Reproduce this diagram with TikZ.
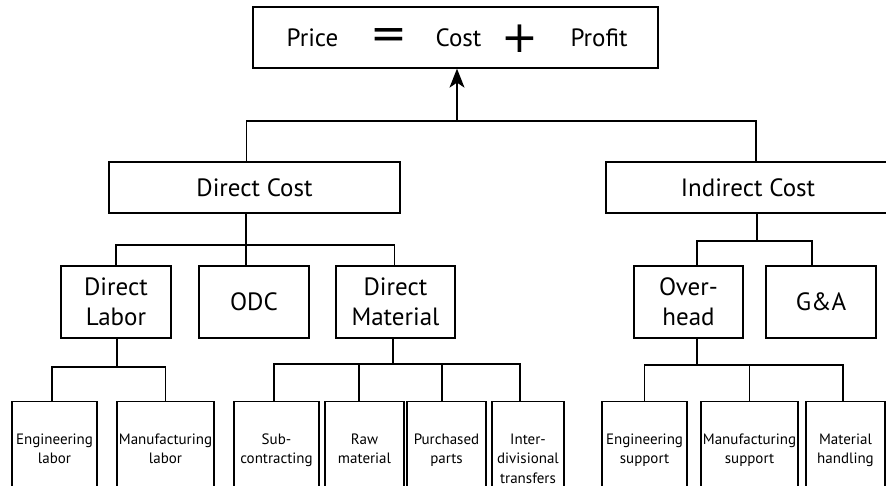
\documentclass[tikz,border=0pt]{standalone}
\usepackage{fontspec}
\setmainfont{PT Sans}
\newfontfamily\symfont{DejaVu Sans}
\usetikzlibrary{arrows.meta}

\begin{document}
\begin{tikzpicture}[
  x=1pt, y=-1pt,
  line width=1.3pt,
  txt/.style={font=\fontsize{25}{30}\selectfont},
  box/.style={
    draw, txt, align=center, inner sep=0pt
  },
  mid/.style={box, minimum height=72pt},
  leaf/.style={
    draw, anchor=north, align=center,
    inner xsep=0pt, inner ysep=32pt,
    font=\fontsize{15}{19.5}\selectfont
  },
  sym/.style={font=\symfont\fontsize{44}{44}\selectfont}
]
  \useasboundingbox (0,0) rectangle (886,486);
  \clip (0,0) rectangle (886,486);

  \node[box, minimum width=405pt, minimum height=61pt] (pcp) at (455.5,37.5){};
  \node[txt, anchor=base] (price) at (312.5,47){Price};
  \node[sym] (eq) at (388.5,39){=};
  \node[txt, anchor=base] (cost) at (458.5,47){Cost};
  \node[sym] (plus) at (520,39){+};
  \node[txt, anchor=base] (profit) at (599,47){Profit};

  \node[box, minimum width=291pt, minimum height=51pt] (dc) at (254.5,187.5){Direct Cost};
  \node[box, minimum width=284pt, minimum height=51pt] (ic) at (748,187.5){Indirect Cost};

  \node[mid, minimum width=110pt] (dl) at (116,302){Direct\\Labor};
  \node[mid, minimum width=110pt] (odc) at (254,302){ODC};
  \node[mid, minimum width=119pt] (dm) at (395.5,302){Direct\\Material};
  \node[mid, minimum width=109pt] (oh) at (688.5,302){Over-\\head};
  \node[mid, minimum width=110pt] (ga) at (821,302){G\&A};

  \foreach \n/\x/\w/\t in {
    el/54.5/85/{Engineering\\labor},
    ml/165.5/97/{Manufacturing\\labor},
    sc/276.5/85/{Sub-\\contracting},
    rm/364.5/79/{Raw\\material},
    pp/446.5/79/{Purchased\\parts},
    id/528/72/{Inter-\\divisional\\transfers},
    es/644.5/85/{Engineering\\support},
    ms/749.5/97/{Manufacturing\\support},
    mh/845.5/79/{Material\\handling}} {
    \node[leaf, minimum width=\w pt] (\n) at (\x,401){\t};
  }

  \coordinate (b0) at (457,121);
  \coordinate (b1) at (246,245);
  \coordinate (b2) at (757,241);
  \coordinate (b3) at (117,367);
  \coordinate (b4) at (393,364);
  \coordinate (b5) at (697,365);

  \draw[-{Stealth[length=19pt,width=15pt,inset=5pt]}] (b0) -- (b0 |- pcp.south);
  \foreach \n/\s in {dc/-8,ic/8} \draw ([xshift=\s pt]\n.north) |- (b0);

  \draw (b1) -- (b1 |- dc.south);
  \foreach \n/\s in {dl/0,odc/-8,dm/-1} \draw ([xshift=\s pt]\n.north) |- (b1);

  \draw (b2) -- (b2 |- ic.south);
  \foreach \n/\s in {oh/8.5,ga/-9} \draw ([xshift=\s pt]\n.north) |- (b2);

  \draw (b3) -- (b3 |- dl.south);
  \foreach \n/\s in {el/-2.5,ml/0} \draw ([xshift=\s pt]\n.north) |- (b3);

  \draw (b4) -- (b4 |- dm.south);
  \foreach \n/\s in {sc/-2.5,rm/-5.5,pp/-4.5,id/-8} \draw ([xshift=\s pt]\n.north) |- (b4);

  \draw (b5) -- (b5 |- oh.south);
  \foreach \n/\s in {es/0,ms/0,mh/-2.5} \draw ([xshift=\s pt]\n.north) |- (b5);
\end{tikzpicture}
\end{document}
